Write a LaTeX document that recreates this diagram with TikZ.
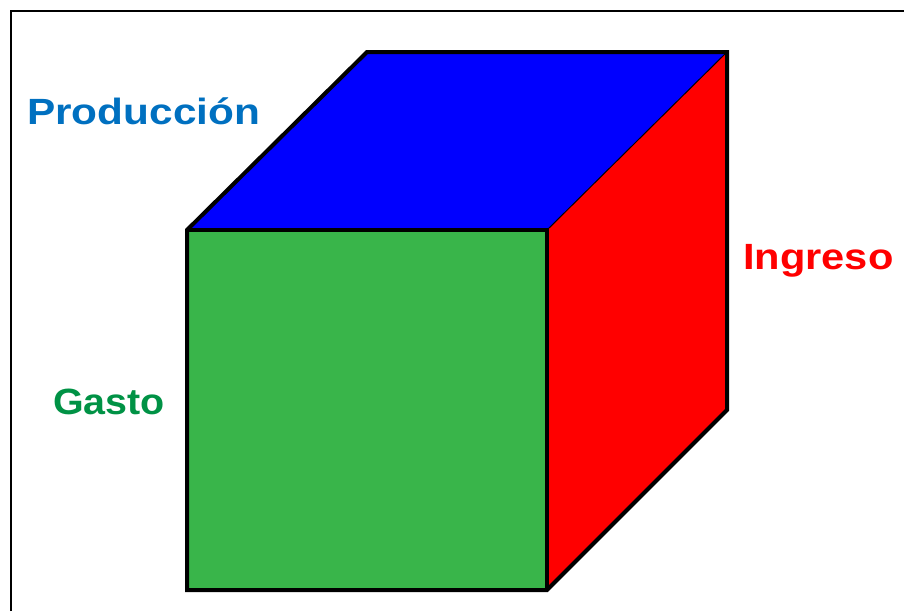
\documentclass[tikz,border=0pt]{standalone}
\usepackage{fontspec}
\setmainfont{Liberation Sans}
\definecolor{topblue}{RGB}{0,0,255}
\definecolor{sidered}{RGB}{255,0,0}
\definecolor{frontgreen}{RGB}{57,181,74}
\definecolor{txtblue}{RGB}{0,112,192}
\definecolor{txtred}{RGB}{255,0,0}
\definecolor{txtgreen}{RGB}{0,146,69}
\begin{document}
\begin{tikzpicture}[x=1pt,y=-1pt,
  edge/.style={line width=4pt,line join=miter},
  thinedge/.style={line width=1pt},
  lbl/.style={anchor=base west,inner sep=0pt,font=\bfseries\fontsize{36.5}{40}\selectfont}]
\useasboundingbox (0,0) rectangle (904,611);
% frame
\draw[line width=2.2pt] (11,611) -- (11,11) -- (904,11);
% cube corners
\coordinate (ftl) at (187,230);
\coordinate (ftr) at (547,230);
\coordinate (fbr) at (547,590);
\coordinate (fbl) at (187,590);
\coordinate (btl) at (367,52);
\coordinate (btr) at (727,52);
\coordinate (bbr) at (727,410);
% faces
\fill[topblue] (ftl) -- (btl) -- (btr) -- (ftr) -- cycle;
\fill[sidered] (ftr) -- (btr) -- (bbr) -- (fbr) -- cycle;
\fill[frontgreen] (ftl) rectangle (fbr);
% edges
\draw[thinedge] (ftr) -- (btr);
\draw[edge] (ftl) -- (btl) -- (btr) -- (bbr) -- (fbr) -- (fbl) -- cycle;
\draw[edge] (ftl) -- (ftr) -- (fbr);
% labels
\node[lbl,text=txtblue] (prod) at (27,124) {\scalebox{1.16}[1]{Producción}};
\node[lbl,text=txtred] (ing) at (743,269) {\scalebox{1.14}[1]{Ingreso}};
\node[lbl,text=txtgreen] (gas) at (53,414) {\scalebox{1.08}[1]{Gasto}};
\end{tikzpicture}
\end{document}
